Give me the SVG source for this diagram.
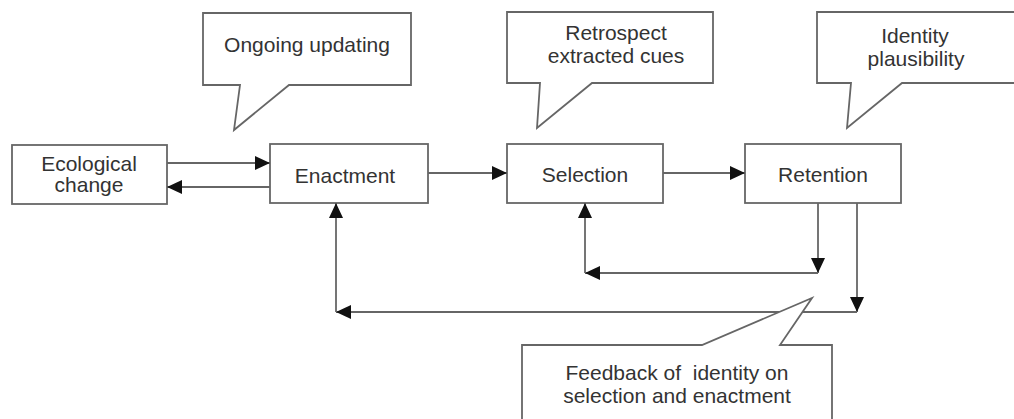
<svg xmlns="http://www.w3.org/2000/svg" width="1014" height="419" viewBox="0 0 1014 419">
<style>
.box{fill:#fff;stroke:#666;stroke-width:1.8}
.call{fill:#fff;stroke:#666;stroke-width:1.8;stroke-linejoin:miter}
.t{font-family:"Liberation Sans",Arial,sans-serif;font-size:21px;fill:#333;text-anchor:middle}
.c{fill:none;stroke:#666;stroke-width:1.8}
</style>
<defs>
<marker id="ah" markerUnits="userSpaceOnUse" markerWidth="17" markerHeight="15" refX="15" refY="7" orient="auto">
<path d="M0,0 L15,7 L0,14 Z" fill="#111"/>
</marker>
</defs>
<rect width="1014" height="419" fill="#fff"/>
<g id="callout-ongoing">
<path class="call" d="M203,13 H411 V85 H289 L234,130 L240,85 H203 Z"/>
<text class="t" x="307" y="52">Ongoing updating</text>
</g>
<g id="callout-retrospect">
<path class="call" d="M507,12 H713 V83 H592 L537,128 L540,83 H507 Z"/>
<text class="t" x="616" y="40">Retrospect</text>
<text class="t" x="616" y="63">extracted cues</text>
</g>
<g id="callout-identity">
<path class="call" d="M817,12 H1020 V83 H902 L847,128 L851,83 H817 Z"/>
<text class="t" x="915" y="43">Identity</text>
<text class="t" x="916" y="66">plausibility</text>
</g>
<g id="ecological">
<rect class="box" x="12" y="145" width="155" height="59"/>
<text class="t" x="89" y="171">Ecological</text>
<text class="t" x="89" y="192">change</text>
</g>
<g id="enactment">
<rect class="box" x="270" y="144" width="158" height="59"/>
<text class="t" x="345" y="183">Enactment</text>
</g>
<g id="selection">
<rect class="box" x="507" y="144" width="156" height="59"/>
<text class="t" x="585" y="182">Selection</text>
</g>
<g id="retention">
<rect class="box" x="745" y="144" width="156" height="59"/>
<text class="t" x="823" y="182">Retention</text>
</g>
<g id="connectors">
<line class="c" x1="167" y1="163" x2="270" y2="163" marker-end="url(#ah)"/>
<line class="c" x1="270" y1="187" x2="167" y2="187" marker-end="url(#ah)"/>
<line class="c" x1="428" y1="173" x2="507" y2="173" marker-end="url(#ah)"/>
<line class="c" x1="663" y1="173" x2="745" y2="173" marker-end="url(#ah)"/>
<line class="c" x1="818" y1="203" x2="818" y2="273" marker-end="url(#ah)"/>
<line class="c" x1="818" y1="273" x2="585" y2="273" marker-end="url(#ah)"/>
<line class="c" x1="585" y1="273" x2="585" y2="203" marker-end="url(#ah)"/>
<line class="c" x1="857" y1="203" x2="857" y2="312" marker-end="url(#ah)"/>
<line class="c" x1="857" y1="312" x2="336" y2="312" marker-end="url(#ah)"/>
<line class="c" x1="336" y1="312" x2="336" y2="203" marker-end="url(#ah)"/>
</g>
<g id="callout-feedback">
<path class="call" d="M522,345 H702 L812,298 L780,345 H832 V425 H522 Z"/>
<text class="t" x="677" y="380" xml:space="preserve">Feedback of  identity on</text>
<text class="t" x="677" y="403">selection and enactment</text>
</g>
</svg>
